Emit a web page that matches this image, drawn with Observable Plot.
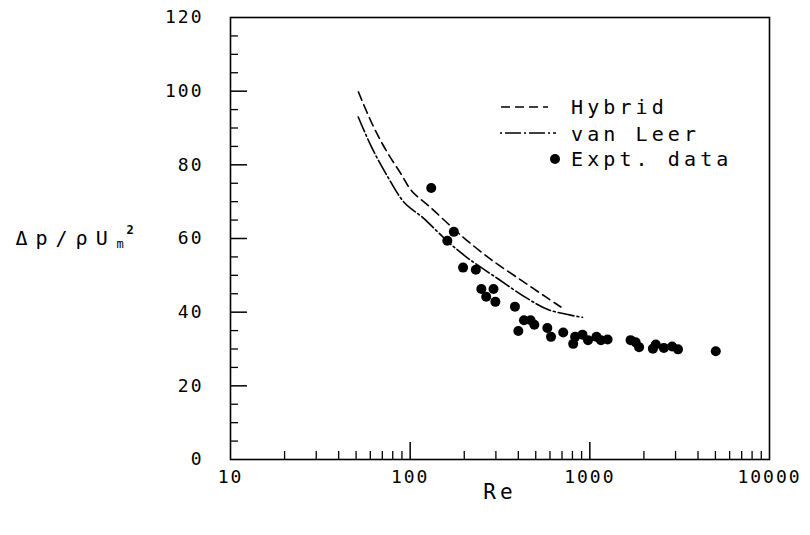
<!DOCTYPE html>
<html><head><meta charset="utf-8">
<script src="https://cdn.jsdelivr.net/npm/d3@7"></script>
<script src="https://cdn.jsdelivr.net/npm/@observablehq/plot@0.6"></script>
<style>
body{margin:0;background:#fff;}
#wrap{width:810px;height:535px;}
svg text{letter-spacing:2px;}
</style></head><body><div id="wrap"></div>
<script>
// ---- data ----
const hybridRe = [51.5, 62, 73.5, 89, 102, 130, 172, 209, 291, 426, 566, 690];
const hybridDp = [99.8, 90.7, 83.9, 77.5, 72.9, 68.4, 62.9, 59.3, 53.8, 48.3, 44.2, 41.4];
const vanLeerRe = [51.4, 61, 73.5, 93, 118, 161, 209, 305, 446, 593, 910];
const vanLeerDp = [93.0, 84.8, 77.5, 69.7, 65.6, 59.3, 54.7, 49.2, 43.8, 40.6, 38.6];
const exptRe = [131, 175, 161, 197, 232, 249, 291, 265, 298, 383, 400, 430, 468, 491, 580, 608, 711, 808, 828, 910, 977, 1089, 1153, 1256, 1686, 1800, 1880, 2244, 2328, 2583, 2870, 3096, 5023];
const exptDp = [73.7, 61.8, 59.4, 52.1, 51.5, 46.3, 46.3, 44.2, 42.8, 41.5, 34.9, 37.8, 37.8, 36.6, 35.7, 33.3, 34.5, 31.4, 33.3, 33.9, 32.4, 33.3, 32.4, 32.6, 32.4, 31.8, 30.5, 30.1, 31.2, 30.3, 30.7, 29.9, 29.4];
const xTickLabels = [10, 100, 1000, 10000];
const xMajorTicks = [100, 1000];
const xMinorTicks = [20,30,40,50,60,70,80,90,200,300,400,500,600,700,800,900,2000,3000,4000,5000,6000,7000,8000,9000];
const yTickLabels = [0, 20, 40, 60, 80, 100, 120];
const yMajorTicks = [20, 40, 60, 80, 100];
const yMinorTicks = [5,10,15,25,30,35,45,50,55,65,70,75,85,90,95,105,110,115];
const legendLabels = ["Hybrid", "van Leer", "Expt. data"];
const xLabel = "Re";
const yLabelMain = "Δp/ρU", yLabelSub = "m", yLabelSup = "2";

const hybrid = hybridRe.map((re, i) => ({re, dp: hybridDp[i]}));
const vanLeer = vanLeerRe.map((re, i) => ({re, dp: vanLeerDp[i]}));
const expt = exptRe.map((re, i) => ({re, dp: exptDp[i]}));

const W = 810, H = 535, mL = 230, mR = 41, mT = 17, mB = 76;
const pW = W - mL - mR, pH = H - mT - mB;

const chart = Plot.plot({
  width: W, height: H,
  marginLeft: mL, marginRight: mR, marginTop: mT, marginBottom: mB,
  style: {fontFamily: "DejaVu Sans Mono", fontSize: "18px", background: "white", color: "black", overflow: "visible"},
  x: {type: "log", domain: [10, 10000]},
  y: {domain: [0, 120]},
  marks: [
    Plot.frame({stroke: "black", strokeWidth: 1.6}),
    Plot.tickX(xMinorTicks, {x: d => d, insetTop: pH - 8, stroke: "black", strokeWidth: 1.3}),
    Plot.tickX(xMajorTicks, {x: d => d, insetTop: pH - 17, stroke: "black", strokeWidth: 1.5}),
    Plot.tickY(yMinorTicks, {y: d => d, insetRight: pW - 8, stroke: "black", strokeWidth: 1.3}),
    Plot.tickY(yMajorTicks, {y: d => d, insetRight: pW - 17, stroke: "black", strokeWidth: 1.5}),
    Plot.axisX({ticks: xTickLabels, tickSize: 0, tickPadding: 11, tickFormat: d => String(d), label: null}),
    Plot.axisY({ticks: yTickLabels, tickSize: 0, tickPadding: 27, tickFormat: d => String(d), label: null}),
    Plot.line(hybrid, {x: "re", y: "dp", stroke: "black", strokeWidth: 1.6, strokeDasharray: "9,5", curve: "catmull-rom"}),
    Plot.line(vanLeer, {x: "re", y: "dp", stroke: "black", strokeWidth: 1.6, strokeDasharray: "16,3,2,3", curve: "catmull-rom"}),
    Plot.dot(expt, {x: "re", y: "dp", r: 5, fill: "black"}),
    Plot.text([xLabel], {text: d => d, frameAnchor: "bottom", dy: 39, fontSize: 21}),
    Plot.text([yLabelMain], {text: d => d, frameAnchor: "left", dx: -215, textAnchor: "start", fontSize: 20}),
    Plot.text([yLabelSub], {text: d => d, frameAnchor: "left", dx: -114, dy: 6, textAnchor: "start", fontSize: 12}),
    Plot.text([yLabelSup], {text: d => d, frameAnchor: "left", dx: -104, dy: -8, textAnchor: "start", fontSize: 12, fontWeight: "bold"})
  ]
});
document.getElementById("wrap").appendChild(chart);

const svg = d3.select(chart);
svg.selectAll("text").each(function() {
  const t = d3.select(this);
  if (t.text() === yLabelMain) t.style("letter-spacing", "8px");
  if (t.text() === yLabelSub || t.text() === yLabelSup) t.style("letter-spacing", "0px");
  if (t.text() === xLabel) t.style("letter-spacing", "4px");
});

// legend (inside the frame, top right)
const lg = svg.append("g").attr("font-family", "DejaVu Sans Mono").attr("font-size", 20)
  .attr("text-anchor", "start");
lg.append("line").attr("x1", 501).attr("x2", 548).attr("y1", 107).attr("y2", 107)
  .attr("stroke", "black").attr("stroke-width", 1.6).attr("stroke-dasharray", "9,5");
lg.append("line").attr("x1", 500).attr("x2", 556).attr("y1", 133).attr("y2", 133)
  .attr("stroke", "black").attr("stroke-width", 1.6).attr("stroke-dasharray", "2,3,16,3");
lg.append("circle").attr("cx", 555).attr("cy", 159).attr("r", 5).attr("fill", "black");
[[107, legendLabels[0]], [134, legendLabels[1]], [159, legendLabels[2]]].forEach(([y, s]) => {
  lg.append("text").attr("x", 571).attr("y", y).attr("dy", "0.36em")
    .style("letter-spacing", "4.1px").text(s);
});
</script></body></html>
